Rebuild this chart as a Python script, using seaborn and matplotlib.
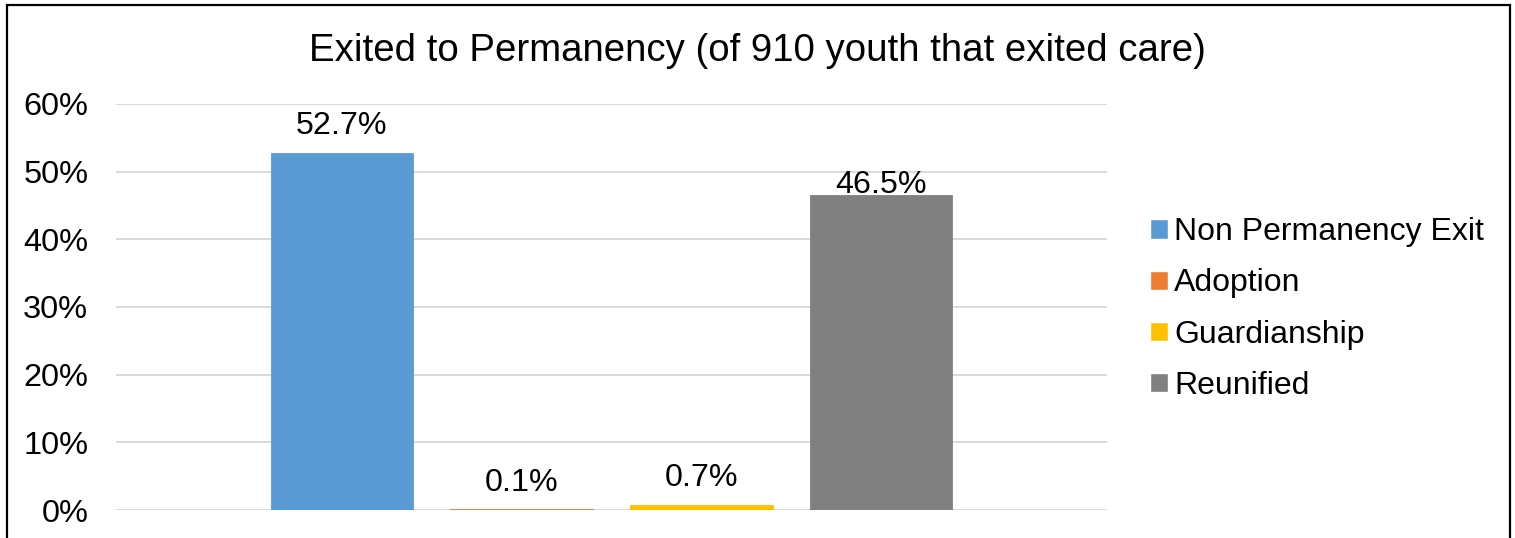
import matplotlib
matplotlib.use("Agg")
import matplotlib.pyplot as plt
from matplotlib.patches import Rectangle
from matplotlib.ticker import PercentFormatter
import seaborn as sns
import pandas as pd

# Exit outcomes for youth leaving care
categories = ["Non Permanency Exit", "Adoption", "Guardianship", "Reunified"]
percent_values = [52.7, 0.1, 0.7, 46.5]
y_ticks = [0, 10, 20, 30, 40, 50, 60]
title_text = "Exited to Permanency (of 910 youth that exited care)"

colors = ["#5B9BD5", "#ED7D31", "#FFC000", "#808080"]

df = pd.DataFrame({
    "group": ["Exits"] * len(categories),
    "outcome": categories,
    "share": [v / 100 for v in percent_values],
})

sns.set_theme(style="white")
plt.rcParams["font.family"] = ["Liberation Sans", "DejaVu Sans"]
plt.rcParams["text.color"] = "black"

W, H = 1515, 538
fig = plt.figure(figsize=(W / 100, H / 100), dpi=100)
ax = fig.add_axes([116 / W, 28 / H, (1107 - 116) / W, (510 - 104) / H])

sns.barplot(
    data=df, x="group", y="share", hue="outcome", hue_order=categories,
    palette=colors, width=0.7265, gap=0.211, saturation=1.0,
    ax=ax, legend=True,
)

# thin outline in the fill colour keeps very small bars visible
for cont in ax.containers:
    for patch in cont:
        patch.set_edgecolor(patch.get_facecolor())
        patch.set_linewidth(0.6)

ax.set_xlim(-0.5, 0.5)
ax.set_ylim(0, 0.6)
ax.set_yticks([t / 100 for t in y_ticks])
ax.yaxis.set_major_formatter(PercentFormatter(1.0, decimals=0))
ax.tick_params(axis="y", length=0, pad=20, labelsize=23.4, labelcolor="black")
ax.set_xticks([])
ax.set_xlabel("")
ax.set_ylabel("")
ax.grid(axis="y", color="#D9D9D9", linewidth=1.4)
ax.set_axisbelow(True)
for s in ax.spines.values():
    s.set_visible(False)

# value labels above each bar
pads = [9, 8, 8.5, -3.5]
for cont, pad in zip(ax.containers, pads):
    ax.bar_label(cont, labels=[f"{v * 100:.1f}%" for v in cont.datavalues],
                 padding=pad, fontsize=23.2, color="black")

handles, labels = ax.get_legend_handles_labels()
ax.get_legend().remove()
fig.legend(handles, labels, loc="center left",
           bbox_to_anchor=(1150 / W, 1 - 309 / H), frameon=False,
           fontsize=23, labelcolor="black", handlelength=0.55,
           handleheight=0.55, handletextpad=0.2, labelspacing=0.66,
           borderpad=0, borderaxespad=0)

fig.text(0.5, 1 - 61 / H, title_text, ha="center", va="baseline",
         fontsize=27.6, color="black")

# outer chart frame
fig.patches.append(Rectangle((7 / W, -0.05), (1510 - 7) / W, 1.05 - 5 / H,
                             transform=fig.transFigure, fill=False,
                             edgecolor="black", linewidth=1.6))

fig.savefig("out.png", dpi=100)
